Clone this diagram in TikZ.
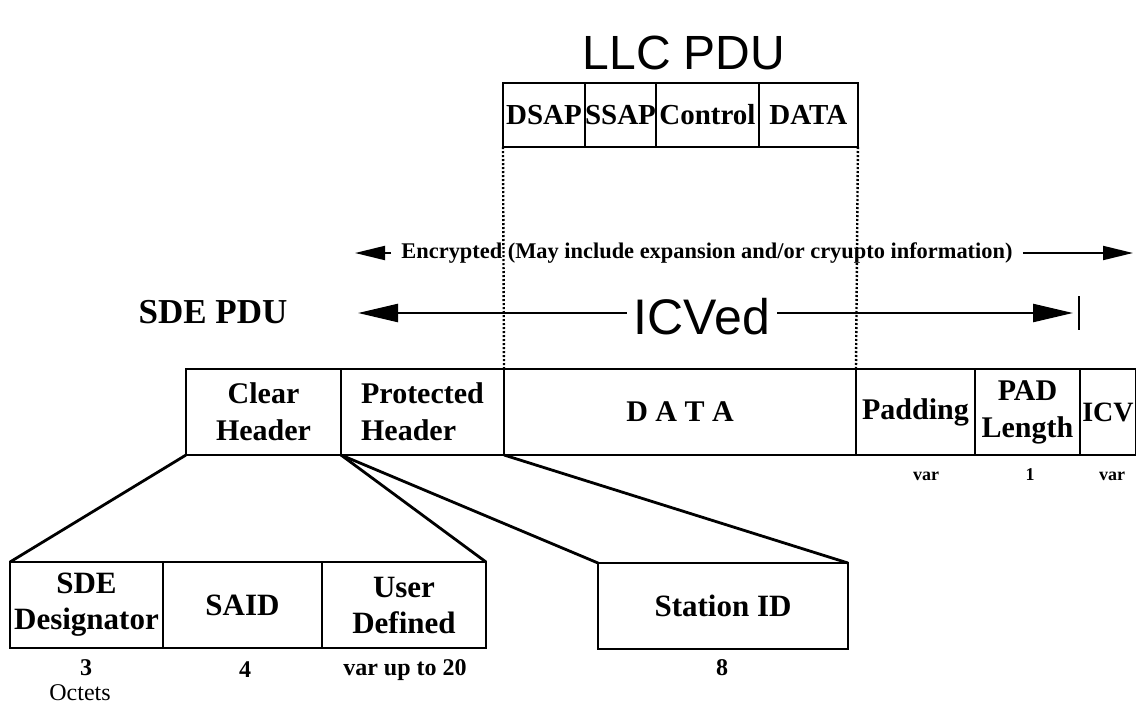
\documentclass[tikz,border=0pt]{standalone}
\usepackage{fontspec}
\setmainfont{Liberation Serif}
\newfontfamily\headsans{Liberation Sans}
\usetikzlibrary{arrows.meta,positioning}

\begin{document}
\begin{tikzpicture}[
  x=0.5pt, y=-0.5pt,
  field/.style={
    draw,
    line width=1pt,
    inner sep=0pt,
    outer sep=0pt,
    align=center,
    font=\fontsize{15}{18.5}\selectfont\bfseries
  },
  llcfield/.style={field, minimum height=32pt, font=\fontsize{14.5}{17}\selectfont\bfseries},
  sdefield/.style={field, minimum height=43pt},
  subfield/.style={field, minimum height=43pt, font=\fontsize{15.5}{18}\selectfont\bfseries},
  octets/.style={anchor=base, inner sep=0pt, font=\fontsize{12}{14}\selectfont\bfseries},
  smalloctets/.style={anchor=base, inner sep=0pt, font=\fontsize{9}{11}\selectfont\bfseries},
  fan/.style={line width=1.4pt},
  guide/.style={line width=1.2pt, dash pattern=on 1pt off 1pt},
  encarrow/.style={-{Triangle[length=15pt,width=7pt]}, line width=1pt},
  icvarrow/.style={-{Triangle[length=20pt,width=9pt]}, line width=1.2pt}
]
  \useasboundingbox (0,0) rectangle (1136,718);

  % LLC PDU
  \node[font=\headsans\fontsize{24}{26}\selectfont] (llctitle) at (684,53) {LLC PDU};
  \node[llcfield, minimum width=41pt, anchor=north west] (dsap) at (503,83) {DSAP};
  \node[llcfield, minimum width=35pt, right=0pt of dsap] (ssap) {SSAP};
  \node[llcfield, minimum width=51.5pt, right=0pt of ssap] (control) {Control};
  \node[llcfield, minimum width=49.5pt, right=0pt of control] (llcdata) {DATA};

  % SDE PDU
  \node[font=\fontsize{17.5}{20}\selectfont\bfseries] (sdetitle) at (213,312) {SDE PDU};
  \node[sdefield, minimum width=77.5pt, anchor=north west] (clear) at (186,369) {Clear\\Header};
  \node[sdefield, minimum width=81.5pt, right=0pt of clear, align=left] (protected) {Protected\\Header};
  \node[sdefield, minimum width=176pt, right=0pt of protected] (data) {D A T A};
  \node[sdefield, minimum width=59.5pt, right=0pt of data] (padding) {Padding};
  \node[sdefield, minimum width=52.5pt, right=0pt of padding] (padlen) {PAD\\Length};
  \node[sdefield, minimum width=28pt, right=0pt of padlen, font=\fontsize{14}{17}\selectfont\bfseries] (icv) {ICV};

  \node[smalloctets] (padvar) at (926,480) {var};
  \node[smalloctets] (padone) at (1030,480) {1};
  \node[smalloctets] (icvvar) at (1112,480) {var};

  % header breakdown
  \node[subfield, minimum width=76.5pt, anchor=north west] (designator) at (10,562) {SDE\\Designator};
  \node[subfield, minimum width=79.5pt, right=0pt of designator] (said) {SAID};
  \node[subfield, minimum width=82pt, right=0pt of said] (userdef) {User\\Defined};
  \node[subfield, minimum width=125pt, anchor=north west] (station) at (598,563) {Station ID};

  \node[octets] (desoct) at (86,675) {3};
  \node[octets] (saidoct) at (245,677) {4};
  \node[octets] (useroct) at (405,675) {var up to 20};
  \node[octets] (stationoct) at (722,675) {8};
  \node[octets, font=\fontsize{12}{14}\selectfont] (unit) at (80,700) {Octets};

  \draw[fan] (clear.south west) -- (designator.north west);
  \draw[fan] (clear.south east) -- (userdef.north east);
  \draw[fan] (clear.south east) -- (station.north west);
  \draw[fan] (protected.south east) -- (station.north east);

  % LLC PDU carried in DATA
  \draw[guide] (dsap.south west) -- (data.north west);
  \draw[guide] (llcdata.south east) -- (data.north east);

  % encrypted span
  \node[font=\fontsize{11.2}{13}\selectfont\bfseries, inner sep=0pt] (enc) at (707,253)
    {Encrypted (May include expansion and/or cryupto information)};
  \coordinate (encleft) at (355,253);
  \coordinate (encright) at (1133,253);
  \draw[encarrow] ([xshift=-5pt]enc.west) -- (encleft);
  \draw[encarrow] ([xshift=5pt]enc.east) -- (encright);

  % ICVed span
  \node[font=\headsans\fontsize{25}{28}\selectfont] (icved) at (702,317) {ICVed};
  \coordinate (icvleft) at (358,313);
  \coordinate (icvright) at (1073,313);
  \coordinate (icvbartop) at (1079,296);
  \coordinate (icvbarbot) at (1079,330);
  \draw[icvarrow] (icved.west |- icvleft) -- (icvleft);
  \draw[icvarrow] (icved.east |- icvright) -- (icvright);
  \draw[line width=1.2pt] (icvbartop) -- (icvbarbot);
\end{tikzpicture}
\end{document}
